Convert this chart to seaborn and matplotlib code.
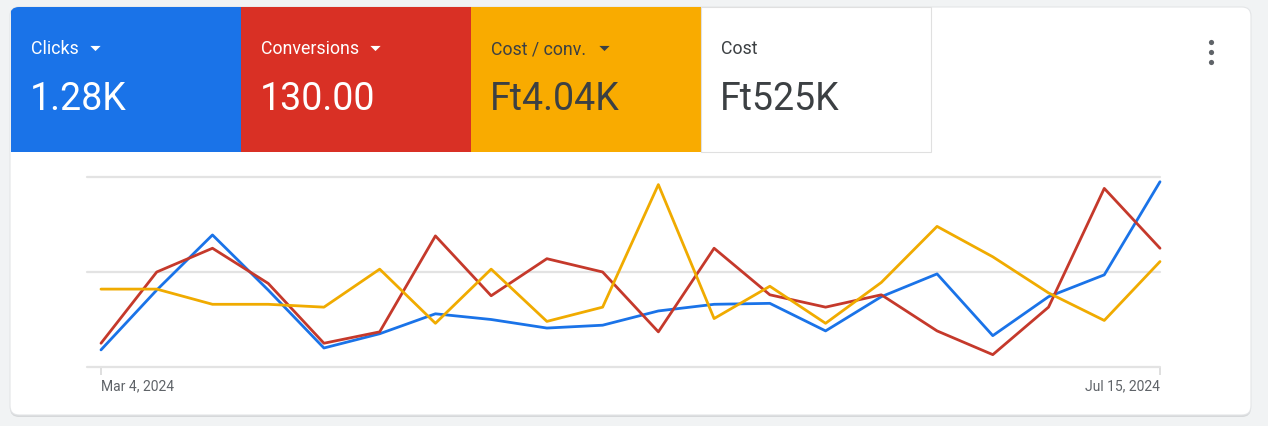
import pandas as pd
import matplotlib.pyplot as plt
import seaborn as sns
from matplotlib.patches import FancyBboxPatch, Rectangle

# weekly points, Mar 4 -> Jul 15 2024 (values on the chart's shared 0-200 scale)
weeks = pd.date_range('2024-03-04', periods=20, freq='7D')
clicks = [18, 81, 139, 81, 20, 35, 56, 50, 41, 44, 59, 66, 67, 38, 74, 98, 33, 74, 97, 195]
conversions = [25, 100, 125, 88, 25, 37, 138, 75, 114, 100, 37, 125, 76, 63, 76, 38, 13, 63, 188, 125]
cost_per_conv = [82, 82, 66, 66, 63, 103, 46, 103, 48, 63, 192, 51, 85, 46, 89, 148, 116, 78, 49, 111]

tile_labels = ['Clicks', 'Conversions', 'Cost / conv.', 'Cost']
tile_values = ['1.28K', '130.00', 'Ft4.04K', 'Ft525K']
tile_colors = ['#1a73e8', '#d93025', '#f9ab00', '#ffffff']
tile_text = ['white', 'white', '#3c4043', '#3c4043']
line_colors = {'Clicks': '#1a73e8', 'Conversions': '#c5392b', 'Cost / conv.': '#f0ab00'}

df = pd.DataFrame({'week': list(weeks) * 3,
                   'value': clicks + conversions + cost_per_conv,
                   'metric': ['Clicks'] * 20 + ['Conversions'] * 20 + ['Cost / conv.'] * 20})

sns.set_style('white')
plt.rcParams['font.family'] = ['Roboto', 'DejaVu Sans']

W, H = 1268, 426
fig = plt.figure(figsize=(W / 100, H / 100), dpi=100)
fig.patch.set_facecolor('#f1f3f4')

# card + scorecard tiles drawn in pixel space
bg = fig.add_axes([0, 0, 1, 1], zorder=0)
bg.set_xlim(0, W)
bg.set_ylim(H, 0)
bg.axis('off')

shadow = FancyBboxPatch((10, 8), 1241, 409, boxstyle='round,pad=0,rounding_size=9',
                        facecolor='#d6d8da', edgecolor='none')
bg.add_patch(shadow)
card = FancyBboxPatch((10, 7), 1241, 408, boxstyle='round,pad=0,rounding_size=9',
                      facecolor='white', edgecolor='#e3e5e7', linewidth=0.8)
bg.add_patch(card)

tri = [(-1, 0.5), (1, 0.5), (0, -0.5)]
tile_w = 230
for i, (lab, val, col, tc) in enumerate(zip(tile_labels, tile_values, tile_colors, tile_text)):
    x0 = 11 + i * tile_w
    r = Rectangle((x0, 7), tile_w, 145, facecolor=col,
                  edgecolor='#e0e0e0' if col == '#ffffff' else 'none', linewidth=0.8)
    bg.add_patch(r)
    r.set_clip_path(card)
    bg.text(x0 + 20, 49, lab, color=tc, fontsize=12.8, va='center', ha='left')
    bg.text(x0 + 19, 99, val, color=tc, fontsize=27, va='center', ha='left')
    if i < 3:
        tri_x = {0: 95, 1: 375, 2: 604}[i]
        bg.scatter([tri_x], [48], marker=tri, s=55, color=tc, linewidths=0)

# kebab menu
bg.scatter([1211, 1211, 1211], [42, 52, 62], s=14, color='#5f6368', linewidths=0)

# line chart
ax = fig.add_axes([87 / W, (H - 367) / H, (1160 - 87) / W, 190 / H], zorder=1)
ax.patch.set_alpha(0)
step = pd.Timedelta(days=7)
ax.set_xlim(weeks[0] - 0.251 * step, weeks[-1])
ax.set_ylim(0, 200)
for y in (0, 100, 200):
    ax.axhline(y, color='#e3e3e3', linewidth=1.6, zorder=1, clip_on=False)

sns.lineplot(data=df, x='week', y='value', hue='metric', palette=line_colors,
             linewidth=2.0, legend=False, ax=ax, zorder=3, clip_on=False)

sns.despine(ax=ax, left=True, bottom=True)
ax.set_yticks([])
ax.set_xlabel('')
ax.set_ylabel('')
ax.set_xticks([weeks[0], weeks[-1]])
ax.set_xticklabels(['Mar 4, 2024', 'Jul 15, 2024'], fontsize=10, color='#5f6368')
ax.tick_params(axis='x', bottom=True, length=6, width=1.3, color='#dcdcdc', pad=3)
labels = ax.get_xticklabels()
labels[0].set_horizontalalignment('left')
labels[1].set_horizontalalignment('right')

fig.savefig('out.png', dpi=100, facecolor=fig.get_facecolor())
